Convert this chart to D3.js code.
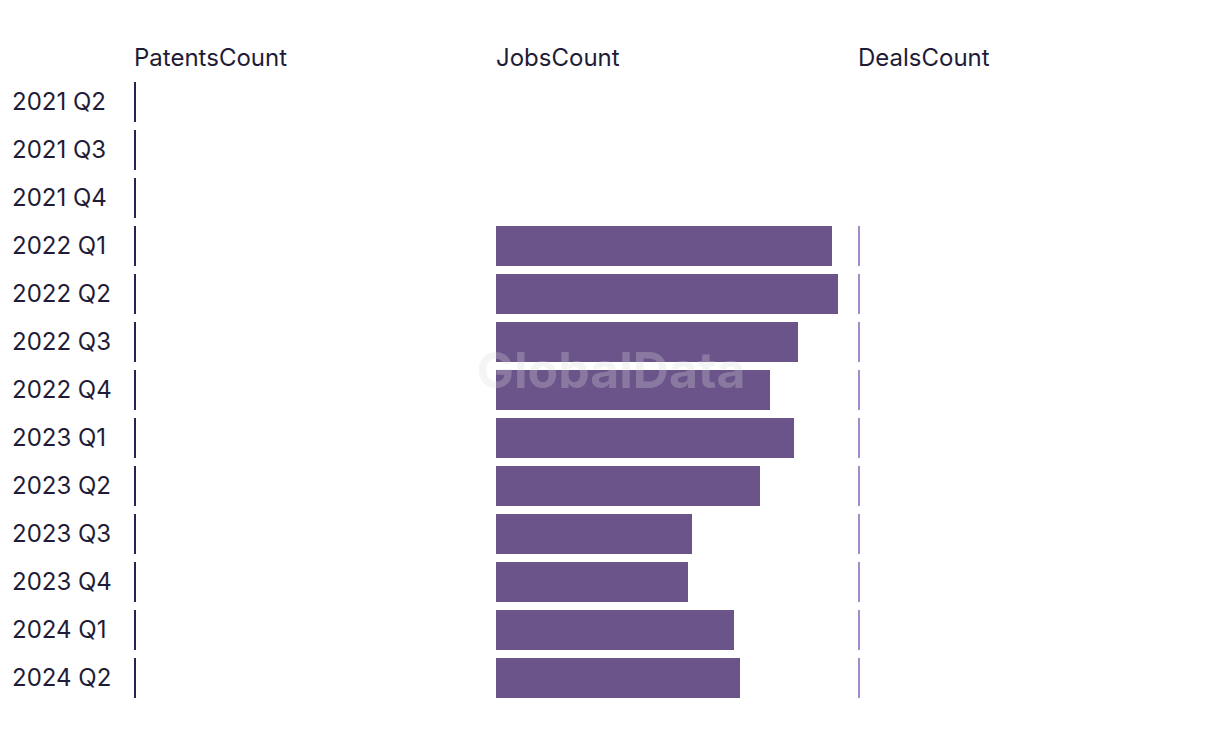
<!DOCTYPE html>
<html>
<head>
<meta charset="utf-8">
<script src="https://cdn.jsdelivr.net/npm/d3@7"></script>
<style>
  html, body { margin: 0; padding: 0; background: #ffffff; }
  svg { display: block; }
</style>
</head>
<body>
<svg id="chart" width="1220" height="740"></svg>
<script>
const quarters = ["2021 Q2","2021 Q3","2021 Q4","2022 Q1","2022 Q2","2022 Q3","2022 Q4","2023 Q1","2023 Q2","2023 Q3","2023 Q4","2024 Q1","2024 Q2"];
const patentsCount = [0,0,0,0,0,0,0,0,0,0,0,0,0];
const jobsCount = [null,null,null,168,171,151,137,149,132,98,96,119,122];
const dealsCount = [null,null,null,0,0,0,0,0,0,0,0,0,0];
const seriesNames = ["PatentsCount","JobsCount","DealsCount"];

const svg = d3.select("#chart");
const font = "Inter, 'Noto Sans', sans-serif";
const textColor = "#1f1c37";

const y = d3.scaleBand().domain(quarters).range([82, 698]).paddingInner(1/6).paddingOuter(0).align(0);
const panelX = d3.scaleBand().domain(seriesNames).range([134, 134 + 362*3]).paddingInner(0);
const panelW = 342;

const allJobs = jobsCount.filter(v => v != null);
const maxVal = d3.max(allJobs);
const x = d3.scaleLinear().domain([0, maxVal]).range([0, panelW]);

const series = [
  {name: "PatentsCount", values: patentsCount, color: "#2e1f52"},
  {name: "JobsCount", values: jobsCount, color: "#6a5489"},
  {name: "DealsCount", values: dealsCount, color: "#a48ccb"}
];

// row labels
svg.append("g").selectAll("text").data(quarters).join("text")
  .attr("x", 12)
  .attr("y", d => y(d) + y.bandwidth()/2)
  .attr("dy", "0.35em")
  .attr("font-family", font)
  .attr("font-size", 24)
  .attr("fill", textColor)
  .text(d => d);

series.forEach(s => {
  const x0 = panelX(s.name);
  svg.append("text")
    .attr("x", x0)
    .attr("y", 66)
    .attr("font-family", font)
    .attr("font-size", 24)
    .attr("fill", textColor)
    .text(s.name);
  const data = quarters.map((q, i) => ({q, v: s.values[i]})).filter(d => d.v != null);
  svg.append("g").selectAll("rect").data(data).join("rect")
    .attr("x", x0)
    .attr("y", d => y(d.q))
    .attr("width", d => Math.max(2, x(d.v)))
    .attr("height", y.bandwidth())
    .attr("fill", s.color);
});

// watermark
svg.append("text")
  .attr("x", 611)
  .attr("y", 388)
  .attr("text-anchor", "middle")
  .attr("font-family", "Inter, 'Open Sans', sans-serif")
  .attr("font-weight", 700)
  .attr("font-size", 50)
  .attr("fill", "#dcdcdc")
  .attr("fill-opacity", 0.28)
  .text("GlobalData");
</script>
</body>
</html>
